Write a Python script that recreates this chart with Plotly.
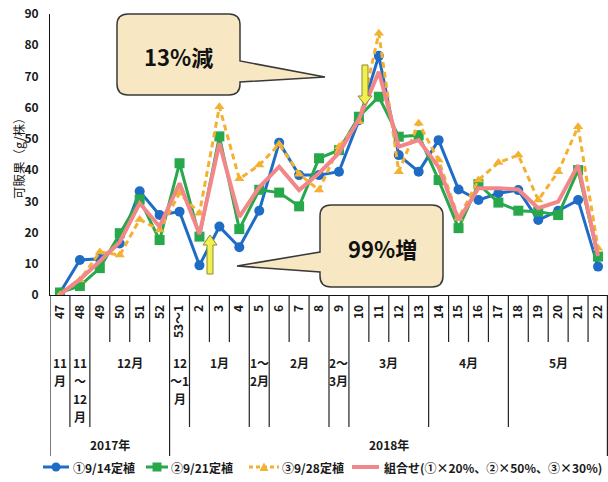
import plotly.graph_objects as go

# ---- data -------------------------------------------------------------
weeks = ["47", "48", "49", "50", "51", "52", "53～1", "2", "3", "4", "5", "6", "7", "8",
         "9", "10", "11", "12", "13", "14", "15", "16", "17", "18", "19", "20", "21", "22"]

plant_0914 = [0.7, 11.2, 11.6, 16.5, 33.2, 25.6, 26.7, 9.5, 21.9, 15.3, 27.0, 48.8, 38.4, 38.4,
              39.5, 56.0, 76.6, 44.8, 39.5, 49.6, 33.8, 30.4, 32.6, 33.6, 24.0, 27.0, 30.4, 9.1]
plant_0921 = [0.8, 2.9, 8.6, 19.8, 30.6, 17.6, 42.2, 18.7, 50.8, 21.1, 33.7, 32.8, 28.4, 43.8,
              46.4, 57.1, 63.5, 50.7, 51.2, 36.8, 21.4, 35.5, 29.6, 27.0, 26.7, 25.6, 40.0, 12.3]
plant_0928 = [0.0, 4.8, 13.8, 12.8, 24.2, 20.8, 32.6, 26.2, 60.3, 37.2, 41.6, 48.3, 38.7, 33.6,
              47.5, 55.5, 83.8, 39.5, 55.0, 43.2, 24.6, 36.8, 42.4, 44.8, 30.4, 39.5, 53.9, 15.0]
combined = [0.2, 5.0, 10.8, 17.0, 29.4, 21.9, 35.8, 19.5, 48.6, 25.0, 34.5, 41.1, 33.6, 39.0,
            45.5, 56.3, 71.5, 47.5, 49.6, 41.0, 24.0, 34.2, 34.2, 33.8, 27.8, 29.9, 41.6, 12.5]

month_groups = [(["11", "月"], 1), (["11", "～", "12", "月"], 1), (["12月"], 4),
                (["12", "～1", "月"], 1), (["1月"], 3), (["1～", "2月"], 1), (["2月"], 3),
                (["2～", "3月"], 1), (["3月"], 4), (["4月"], 4), (["5月"], 5)]
year_groups = [("2017年", 6), ("2018年", 22)]

series_names = ["①9/14定植", "②9/21定植", "③9/28定植", "組合せ(①×20%、②×50%、③×30%)"]
series_colors = ["#1f6cc6", "#27a84a", "#f3b131", "#f2878a"]
y_title = "可販果（g/株）"
callout_down = "13%減"
callout_up = "99%増"

# ---- geometry (pixels of the 608x482 page) ----------------------------
W, H = 608, 482
L, R, T, B = 50, 608, 14, 295
FONT = "Noto Sans CJK JP"
TXT = "#1a1a1a"


def fx(p):
    return (p - L) / (R - L)


def fy(p):
    return (B - p) / (B - T)


def path(points):
    out = []
    for cmd, pts in points:
        coords = " ".join(f"{fx(x):.5f},{fy(y):.5f}" for x, y in pts)
        out.append(f"{cmd}{coords}")
    return " ".join(out) + " Z"


def callout(x0, y0, x1, y1, r, side, b0, b1, tip):
    pts = [("M", [(x0 + r, y0)]), ("L", [(x1 - r, y0)]), ("Q", [(x1, y0), (x1, y0 + r)])]
    if side == "right":
        pts += [("L", [(x1, b0)]), ("L", [tip]), ("L", [(x1, b1)])]
    pts += [("L", [(x1, y1 - r)]), ("Q", [(x1, y1), (x1 - r, y1)]),
            ("L", [(x0 + r, y1)]), ("Q", [(x0, y1), (x0, y1 - r)])]
    if side == "left":
        pts += [("L", [(x0, b1)]), ("L", [tip]), ("L", [(x0, b0)])]
    pts += [("L", [(x0, y0 + r)]), ("Q", [(x0, y0), (x0 + r, y0)])]
    return path(pts)


def font(size, weight="bold", color=TXT):
    return dict(family=FONT, size=size, color=color, weight=weight)


fig = go.Figure()

fig.add_trace(go.Scatter(
    x=weeks, y=plant_0914, name=series_names[0], mode="lines+markers",
    line=dict(color=series_colors[0], width=3),
    marker=dict(symbol="circle", size=10, color=series_colors[0])))
fig.add_trace(go.Scatter(
    x=weeks, y=plant_0921, name=series_names[1], mode="lines+markers",
    line=dict(color=series_colors[1], width=3),
    marker=dict(symbol="square", size=10, color=series_colors[1])))
fig.add_trace(go.Scatter(
    x=weeks, y=plant_0928, name=series_names[2], mode="lines+markers",
    line=dict(color=series_colors[2], width=3, dash="6px,4px"),
    marker=dict(symbol="triangle-up", size=9, color=series_colors[2])))
fig.add_trace(go.Scatter(
    x=weeks, y=combined, name=series_names[3], mode="lines",
    line=dict(color=series_colors[3], width=4)))

shapes = []
annotations = []

# category dividers under the axis: week / month / year levels
n = len(weeks)
month_edges = set()
pos = 0
for _, cnt in month_groups:
    pos += cnt
    month_edges.add(pos)
year_edges = {0}
pos = 0
for _, cnt in year_groups:
    pos += cnt
    year_edges.add(pos)

for k in range(n + 1):
    if k in year_edges:
        bottom = 456
    elif k in month_edges:
        bottom = 427
    else:
        bottom = 342
    xk = min(k - 0.5, n - 0.53)
    shapes.append(dict(type="line", xref="x", yref="paper", x0=xk, x1=xk,
                       y0=0, y1=fy(bottom), line=dict(color="#222", width=1.2)))

# month row: one text per line, 18 px apart
pos = 0
for lines, cnt in month_groups:
    center = pos + (cnt - 1) / 2
    for j, line in enumerate(lines):
        annotations.append(dict(xref="x", yref="paper", x=center, y=fy(362 + 18 * j),
                                yanchor="middle", xanchor="center", text=line,
                                showarrow=False, borderpad=0, font=font(12)))
    pos += cnt

pos = 0
for label, cnt in year_groups:
    center = pos + (cnt - 1) / 2
    annotations.append(dict(xref="x", yref="paper", x=center, y=fy(445), yanchor="middle",
                            xanchor="center", text=label, showarrow=False,
                            font=font(12)))
    pos += cnt

# y axis title
annotations.append(dict(xref="paper", yref="paper", x=fx(18), y=fy(155), text=y_title,
                        textangle=-90, showarrow=False, xanchor="center", yanchor="middle",
                        font=font(12.5, "normal")))

# callout boxes
box_fill = "#f7e8c3"
shapes.append(dict(type="path", xref="paper", yref="paper", layer="above",
                   path=callout(117, 14, 240, 95, 11, "right", 61, 82, (325, 77)),
                   fillcolor=box_fill, line=dict(color="#3a3a3a", width=1.5)))
shapes.append(dict(type="path", xref="paper", yref="paper", layer="above",
                   path=callout(320, 205, 443, 287, 11, "left", 252, 272, (237, 266)),
                   fillcolor=box_fill, line=dict(color="#3a3a3a", width=1.5)))
annotations.append(dict(xref="paper", yref="paper", x=fx(178), y=fy(56), text=callout_down,
                        xanchor="center", yanchor="middle", showarrow=False,
                        font=font(22, "bold", "#111")))
annotations.append(dict(xref="paper", yref="paper", x=fx(382), y=fy(248), text=callout_up,
                        xanchor="center", yanchor="middle", showarrow=False,
                        font=font(22, "bold", "#111")))

# yellow block arrows
arrow_fill = "#f2f04e"
arrow_line = dict(color="#8c8a2c", width=1)
shapes.append(dict(type="path", xref="paper", yref="paper", layer="above",
                   path=path([("M", [(207, 274)]), ("L", [(207, 245)]), ("L", [(203, 245)]),
                              ("L", [(210, 235)]), ("L", [(217, 245)]), ("L", [(213, 245)]),
                              ("L", [(213, 274)])]),
                   fillcolor=arrow_fill, line=arrow_line))
shapes.append(dict(type="path", xref="paper", yref="paper", layer="above",
                   path=path([("M", [(362, 65)]), ("L", [(362, 96)]), ("L", [(358, 96)]),
                              ("L", [(365, 105)]), ("L", [(372, 96)]), ("L", [(368, 96)]),
                              ("L", [(368, 65)])]),
                   fillcolor=arrow_fill, line=arrow_line))

# legend row along the bottom: sample line, marker and label per series
LEG_Y = 467
legend_slots = [(43, 69, 72), (146, 168, 170), (249, 279, 281), (352, 379, 383)]
for i, (sx0, sx1, tx) in enumerate(legend_slots):
    col = series_colors[i]
    dash = "4px,3px" if i == 2 else "solid"
    shapes.append(dict(type="line", xref="paper", yref="paper",
                       x0=fx(sx0), x1=fx(sx1), y0=fy(LEG_Y), y1=fy(LEG_Y),
                       line=dict(color=col, width=4 if i == 3 else 3, dash=dash)))
    cx = (sx0 + sx1) / 2
    if i == 0:
        shapes.append(dict(type="circle", xref="paper", yref="paper",
                           x0=fx(cx - 4.5), x1=fx(cx + 4.5), y0=fy(LEG_Y + 4.5), y1=fy(LEG_Y - 4.5),
                           fillcolor=col, line=dict(color=col, width=0)))
    elif i == 1:
        shapes.append(dict(type="rect", xref="paper", yref="paper",
                           x0=fx(cx - 4.5), x1=fx(cx + 4.5), y0=fy(LEG_Y + 4.5), y1=fy(LEG_Y - 4.5),
                           fillcolor=col, line=dict(color=col, width=0)))
    elif i == 2:
        shapes.append(dict(type="path", xref="paper", yref="paper",
                           path=path([("M", [(cx - 4.5, LEG_Y + 4)]), ("L", [(cx, LEG_Y - 4.5)]),
                                      ("L", [(cx + 4.5, LEG_Y + 4)])]),
                           fillcolor=col, line=dict(color=col, width=0)))
    annotations.append(dict(xref="paper", yref="paper", x=fx(tx), y=fy(LEG_Y),
                            xanchor="left", yanchor="middle", text=series_names[i],
                            showarrow=False, borderpad=0, font=font(12)))

fig.update_layout(
    width=W, height=H,
    margin=dict(l=L, r=W - R, t=T, b=H - B, autoexpand=False),
    paper_bgcolor="white", plot_bgcolor="white",
    font=dict(family=FONT, color=TXT),
    shapes=shapes, annotations=annotations,
    showlegend=False,
)

fig.update_xaxes(
    type="category", categoryorder="array", categoryarray=weeks,
    range=[-0.5, n - 0.5], showgrid=False, showline=True, linecolor="#111", linewidth=1,
    ticks="", tickangle=-90, ticklabelstandoff=4, tickfont=font(12),
    automargin=False, fixedrange=True,
)
fig.update_yaxes(
    range=[0, 90], dtick=10, showgrid=False, zeroline=False, showline=True,
    linecolor="#111", linewidth=1, ticks="", ticklabelstandoff=8,
    tickfont=font(12), automargin=False, fixedrange=True,
)

fig.write_html("out.html")
